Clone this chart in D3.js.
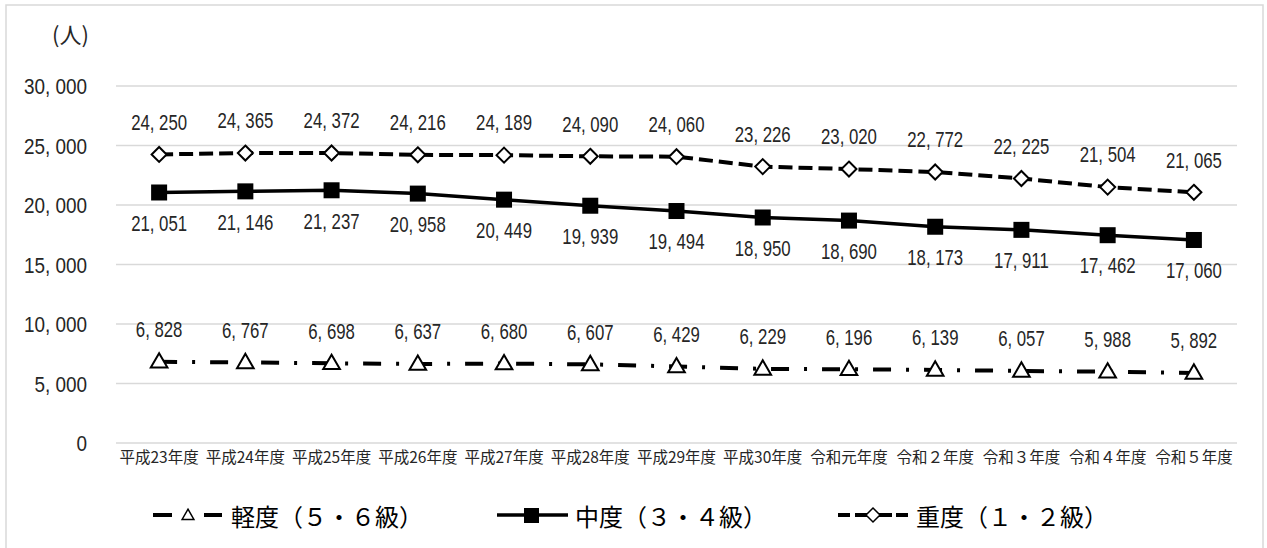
<!DOCTYPE html>
<html>
<head>
<meta charset="utf-8">
<script src="https://cdn.jsdelivr.net/npm/d3@7"></script>
<style>
  body { margin: 0; background: #fff; }
  svg { display: block; }
</style>
</head>
<body>
<svg id="chart" width="1267" height="548"></svg>
<script>
const years = ["平成23年度", "平成24年度", "平成25年度", "平成26年度", "平成27年度", "平成28年度",
  "平成29年度", "平成30年度", "令和元年度", "令和２年度", "令和３年度", "令和４年度", "令和５年度"];
const heavy = [24250, 24365, 24372, 24216, 24189, 24090, 24060, 23226, 23020, 22772, 22225, 21504, 21065];
const middle = [21051, 21146, 21237, 20958, 20449, 19939, 19494, 18950, 18690, 18173, 17911, 17462, 17060];
const light = [6828, 6767, 6698, 6637, 6680, 6607, 6429, 6229, 6196, 6139, 6057, 5988, 5892];
const yTicks = [0, 5000, 10000, 15000, 20000, 25000, 30000];
const seriesNames = ["軽度（５・６級）", "中度（３・４級）", "重度（１・２級）"];

const cjk = "'Noto Sans CJK JP', 'Noto Sans', sans-serif";
const num = "'Liberation Sans', Arial, sans-serif";

const svg = d3.select("#chart");

// outer frame
svg.append("rect")
  .attr("x", 6).attr("y", 5).attr("width", 1257).attr("height", 560)
  .attr("fill", "none").attr("stroke", "#d9d9d9").attr("stroke-width", 1.5);

const x = d3.scaleBand().domain(years).range([116, 1237]);
const y = d3.scaleLinear().domain([0, 30000]).range([443, 86]);
const cx = d => x(d) + x.bandwidth() / 2;
const fmt = v => d3.format(",")(v).replace(",", ", ");

// gridlines
svg.append("g").selectAll("line")
  .data(yTicks)
  .enter().append("line")
  .attr("x1", 116).attr("x2", 1237)
  .attr("y1", d => y(d)).attr("y2", d => y(d))
  .attr("stroke", "#d9d9d9").attr("stroke-width", 1.5);

// y axis labels (condensed by horizontal scale, no narrow font installed)
svg.append("g").selectAll("g")
  .data(yTicks)
  .enter().append("g")
  .attr("transform", d => `translate(87,${y(d)}) scale(0.86,1)`)
  .append("text")
  .attr("text-anchor", "end").attr("dominant-baseline", "central")
  .attr("font-family", num).attr("font-size", 22).attr("fill", "#262626")
  .text(fmt);

svg.append("text")
  .attr("x", 52).attr("y", 43)
  .attr("font-family", cjk).attr("font-size", 22).attr("fill", "#262626")
  .text("(人)");

// x axis labels
const xAxis = d3.axisBottom(x).tickSize(0).tickPadding(0);
const xg = svg.append("g")
  .attr("transform", "translate(0,452)")
  .call(xAxis);
xg.select(".domain").remove();
xg.selectAll("text")
  .attr("font-family", cjk).attr("font-size", 15.5).attr("fill", "#262626");

const line = d3.line().x((d, i) => cx(years[i])).y(d => y(d));

// light series: dash-dot
svg.append("path").datum(light)
  .attr("d", line).attr("fill", "none").attr("stroke", "#000")
  .attr("stroke-width", 4).attr("stroke-dasharray", "18,15,3,15");
// middle series: solid
svg.append("path").datum(middle)
  .attr("d", line).attr("fill", "none").attr("stroke", "#000")
  .attr("stroke-width", 3.5);
// heavy series: dashed
svg.append("path").datum(heavy)
  .attr("d", line).attr("fill", "none").attr("stroke", "#000")
  .attr("stroke-width", 4).attr("stroke-dasharray", "14,6");

const triangle = d3.symbol().type(d3.symbolTriangle).size(120);
const diamond = s => `M0,${-s}L${s},0L0,${s}L${-s},0Z`;

svg.append("g").selectAll("path")
  .data(light)
  .enter().append("path")
  .attr("transform", (d, i) => `translate(${cx(years[i])},${y(d) + 1})`)
  .attr("d", triangle)
  .attr("fill", "#fff").attr("stroke", "#000").attr("stroke-width", 2);

svg.append("g").selectAll("rect")
  .data(middle)
  .enter().append("rect")
  .attr("x", (d, i) => cx(years[i]) - 8).attr("y", d => y(d) - 8)
  .attr("width", 16).attr("height", 16)
  .attr("fill", "#000");

svg.append("g").selectAll("path")
  .data(heavy)
  .enter().append("path")
  .attr("transform", (d, i) => `translate(${cx(years[i])},${y(d)})`)
  .attr("d", diamond(7.5))
  .attr("fill", "#fff").attr("stroke", "#000").attr("stroke-width", 2);

// data labels
function labels(data, dy) {
  svg.append("g").selectAll("g")
    .data(data)
    .enter().append("g")
    .attr("transform", (d, i) => `translate(${cx(years[i])},${y(d) + dy}) scale(0.78,1)`)
    .append("text")
    .attr("text-anchor", "middle").attr("dominant-baseline", "central")
    .attr("font-family", num).attr("font-size", 21.5).attr("fill", "#262626")
    .text(fmt);
}
labels(heavy, -32);
labels(middle, 31);
labels(light, -32);

// legend
const legendX = [153, 497, 838];
const ly = 515;
seriesNames.forEach((name, i) => {
  const g = svg.append("g").attr("transform", `translate(${legendX[i]},${ly})`);
  const seg = (a, b, w) => g.append("line").attr("x1", a).attr("x2", b)
    .attr("stroke", "#000").attr("stroke-width", w);
  if (i === 0) {
    seg(0, 19, 4);
    seg(51, 69, 4);
    g.append("path").attr("transform", "translate(35,1)")
      .attr("d", d3.symbol().type(d3.symbolTriangle).size(60))
      .attr("fill", "#fff").attr("stroke", "#000").attr("stroke-width", 1.5);
  } else if (i === 1) {
    seg(0, 71, 3.5);
    g.append("rect").attr("x", 27).attr("y", -7).attr("width", 15).attr("height", 15).attr("fill", "#000");
  } else {
    seg(0, 12, 4);
    seg(17, 29, 4);
    seg(41, 54, 4);
    seg(58, 70, 4);
    g.append("path").attr("transform", "translate(35,0)").attr("d", diamond(7))
      .attr("fill", "#fff").attr("stroke", "#000").attr("stroke-width", 1.5);
  }
  g.append("text")
    .attr("x", 78).attr("y", 0)
    .attr("dominant-baseline", "central")
    .attr("font-family", cjk).attr("font-size", 24).attr("fill", "#000")
    .text(name);
});
</script>
</body>
</html>
